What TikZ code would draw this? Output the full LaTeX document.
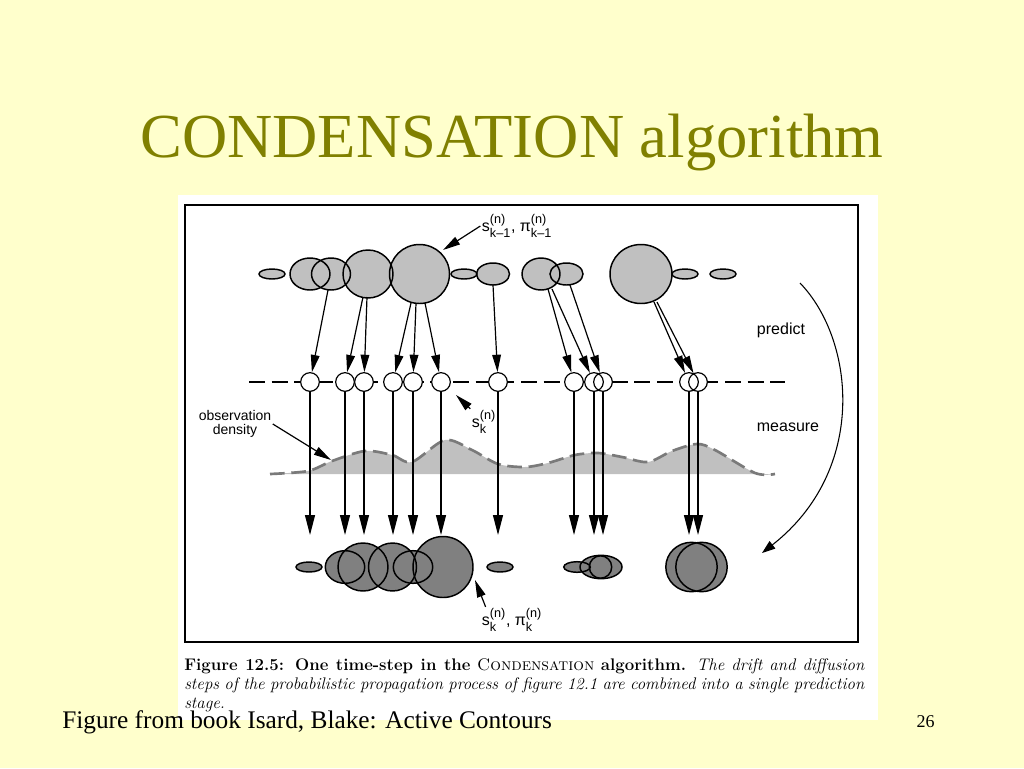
\documentclass[tikz,border=0pt]{standalone}
\usepackage{fontspec}
\setsansfont{Liberation Sans}
\newfontfamily\slidefont{Liberation Serif}
\usepackage{xcolor}
\usepackage{tikz}
\usetikzlibrary{arrows.meta,positioning}
\definecolor{slidebg}{HTML}{FFFFCC}
\definecolor{olive}{HTML}{808000}
\definecolor{lightblob}{HTML}{C0C0C0}
\definecolor{darkblob}{HTML}{808080}
\definecolor{densline}{HTML}{7A7A7A}
\newcommand{\sv}[3]{\(\mbox{#1}^{\mbox{\fontsize{9.5}{10}\selectfont #2}}_{\mbox{\fontsize{9.5}{10}\selectfont #3}}\)}
\tikzset{
  blobline/.style={draw=black, line width=1.1pt},
  particle/.style={circle, draw=black, line width=0.9pt, minimum size=14pt, inner sep=0pt},
  pred/.style={-{Triangle[length=13pt,width=6.5pt]}, line width=0.9pt},
  meas/.style={-{Triangle[length=15pt,width=7.5pt]}, line width=0.9pt},
  cyclearrow/.style={-{Triangle[length=10pt,width=7pt]}, line width=0.8pt},
  sampleline/.style={line width=2.2pt, dash pattern=on 12pt off 5pt},
  densdash/.style={draw=densline, line width=2pt, dash pattern=on 11pt off 5pt},
  lbl/.style={font=\sffamily\fontsize{12}{14}\selectfont, inner sep=1pt},
  lbls/.style={font=\sffamily\fontsize{10.5}{10.5}\selectfont, align=center, inner sep=1pt},
}
\begin{document}
\begin{tikzpicture}[x=0.75pt,y=-0.75pt]
\useasboundingbox (0,0) rectangle (1024,768);
\fill[slidebg] (0,0) rectangle (1024,768);
\node[anchor=base, text=olive, font=\slidefont\fontsize{47}{52}\selectfont] (title) at (512,157) {CONDENSATION algorithm};

% figure panel
\fill[white] (178,195) rectangle (878,720);
\draw[line width=1.5pt] (185,205) rectangle (858,642);

% samples at k-1
\foreach \x/\rx/\ry in {272/13/5, 310/20/16, 331/19.5/16, 368/25/24, 419.5/30/29.5, 464/13/5, 493/16.5/11, 541/19/16, 566.5/16.5/11, 641/31/29.5, 685/13/5, 723/13/5}
  \fill[lightblob] (\x,274) ellipse [x radius=\rx, y radius=\ry];
\foreach \x/\rx/\ry in {272/13/5, 310/20/16, 331/19.5/16, 368/25/24, 419.5/30/29.5, 464/13/5, 493/16.5/11, 541/19/16, 566.5/16.5/11, 641/31/29.5, 685/13/5, 723/13/5}
  \draw[blobline] (\x,274) ellipse [x radius=\rx, y radius=\ry];

% observation density
\fill[lightblob] plot[smooth] coordinates {(270,474) (308,471) (332,461) (365,451) (392,455) (412,462) (445,440) (472,450) (498,464) (525,467) (548,463) (575,455) (598,453) (622,457) (648,462) (672,451) (697,444) (715,450) (755,473) (775,474)} -- cycle;
\draw[densdash] plot[smooth] coordinates {(270,474) (308,471) (332,461) (365,451) (392,455) (412,462) (445,440) (472,450) (498,464) (525,467) (548,463) (575,455) (598,453) (622,457) (648,462) (672,451) (697,444) (715,450) (755,473) (775,474)};

% predicted samples
\draw[sampleline] (249,382) -- (785,382);
\foreach \x in {310,345,364,393,413,441,498,574,594,603,689,698}
  \fill[white] (\x,382) circle [radius=9.3];
\foreach \i/\x in {1/310,2/345,3/364,4/393,5/413,6/441,7/498,8/574,9/594,10/603,11/689,12/698}
  \node[particle] (c\i) at (\x,382) {};

% predict
\foreach \i/\sx/\sy in {1/328/290, 2/363/297, 3/367/297, 4/411/303, 5/416/303, 6/425/303, 7/493/285, 8/548/289, 9/552/289, 10/570/285, 11/654/302, 12/657/302} {
  \coordinate (a\i) at (\sx,\sy);
  \draw[pred] (a\i) -- (c\i);
}

% measure
\foreach \i/\x in {1/310,2/345,3/364,4/393,5/413,6/441,7/498,8/574,9/594,10/603,11/689,12/698} {
  \coordinate (b\i) at (\x,535);
  \draw[meas] (c\i) -- (b\i);
}
\draw[line width=1.6pt, shorten >=12pt] (c7) -- (b7);

% samples at k
\foreach \x/\rx/\ry in {309/13/5, 345/19.7/16.3, 363/25/24, 392.5/24/24, 413/19.7/16.3, 443/30/30.5, 500/13/5, 577/13.3/5.3, 601/21/11.7, 600.5/11.2/11.2, 691.5/25.7/24.7, 701.5/25.7/24.7}
  \fill[darkblob] (\x,567) ellipse [x radius=\rx, y radius=\ry];
\foreach \x/\rx/\ry in {309/13/5, 345/19.7/16.3, 363/25/24, 392.5/24/24, 413/19.7/16.3, 443/30/30.5, 500/13/5, 577/13.3/5.3, 601/21/11.7, 600.5/11.2/11.2, 691.5/25.7/24.7, 701.5/25.7/24.7}
  \draw[blobline] (\x,567) ellipse [x radius=\rx, y radius=\ry];

% labels
\node[lbl] (prior) at (517,226) {\sv{s}{(n)}{k–1}, \sv{π}{(n)}{k–1}};
\coordinate (priortip) at (443,250);
\draw[pred] (prior.west) -- (priortip);

\node[lbl] (sk) at (484,422) {\sv{s}{(n)}{k}};
\coordinate (sktip) at (456,395);
\draw[pred] (sk.north west) -- (sktip);

\node[lbl] (post) at (512,620) {\sv{s}{(n)}{k}, \sv{π}{(n)}{k}};
\coordinate (posttip) at (475,580);
\draw[pred] ([xshift=4pt]post.north west) -- (posttip);

\node[lbls] (obs) at (235,424) {observation\\density};
\coordinate (denstip) at (331,460);
\draw[pred] (obs.east) -- (denstip);

\node[lbl] (predict) at (781,330) {predict};
\node[lbl] (measure) at (788,427) {measure};
\coordinate (cyclestart) at (800,283);
\coordinate (cycleend) at (762,553);
\draw[cyclearrow] (cyclestart) .. controls (855,340) and (868,470) .. (cycleend);

% caption and footer
\node[anchor=north west, text width=510pt, align=justify, inner sep=0pt, font=\fontsize{12.6}{14.4}\selectfont] (caption) at (184,658) {\textbf{Figure 12.5: One time-step in the} \textsc{Condensation} \textbf{algorithm.} \textit{The drift and diffusion\linebreak steps of the probabilistic propagation process of figure 12.1 are combined into a single prediction\linebreak stage.}};
\node[anchor=base west, inner sep=0pt, font=\slidefont\fontsize{19}{22}\selectfont] (source) at (62,728) {Figure from book Isard, Blake: Active Contours};
\node[anchor=base east, inner sep=0pt, font=\slidefont\fontsize{13.5}{15}\selectfont] (pageno) at (935,727) {26};
\end{tikzpicture}
\end{document}
